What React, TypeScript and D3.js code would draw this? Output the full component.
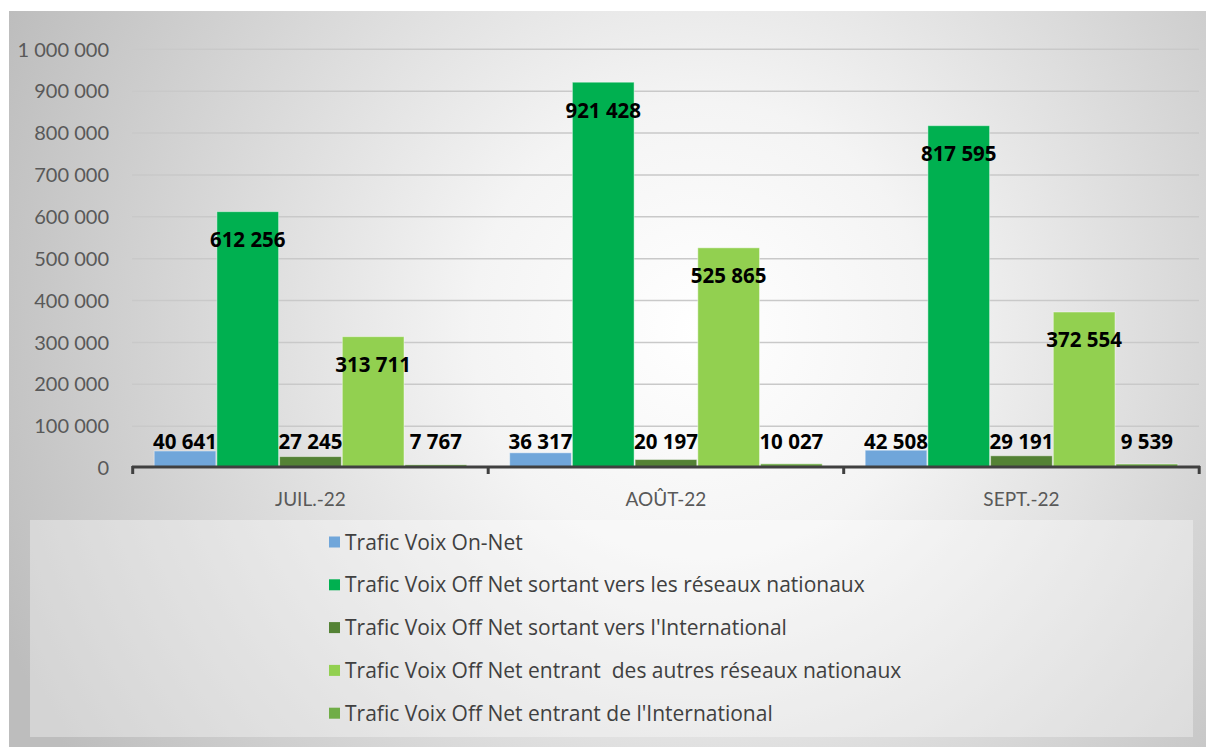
import React from 'react';
import * as d3 from 'd3';

// months on the x axis
const months = ['JUIL.-22', 'AOÛT-22', 'SEPT.-22'];

// one array per series, same order as months
const onNet = [40641, 36317, 42508];
const offNetSortantNat = [612256, 921428, 817595];
const offNetSortantInt = [27245, 20197, 29191];
const offNetEntrantNat = [313711, 525865, 372554];
const offNetEntrantInt = [7767, 10027, 9539];

const seriesNames = [
  'Trafic Voix On-Net',
  'Trafic Voix Off Net sortant vers les réseaux nationaux',
  "Trafic Voix Off Net sortant vers l'International",
  'Trafic Voix Off Net entrant  des autres réseaux nationaux',
  "Trafic Voix Off Net entrant de l'International",
];
const seriesColors = ['#70a6da', '#00b050', '#548235', '#92d050', '#70ad47'];

const yTicks = [0, 100000, 200000, 300000, 400000, 500000, 600000, 700000, 800000, 900000, 1000000];

const W = 1206;
const H = 747;

const fr = d3.formatLocale({ decimal: ',', thousands: '\u00a0', grouping: [3], currency: ['', ''] });
const fmt = fr.format(',d');

const App = () => {
  const series = [onNet, offNetSortantNat, offNetSortantInt, offNetEntrantNat, offNetEntrantInt];

  const x0 = d3.scaleBand<string>()
    .domain(months)
    .range([132.7, 1199.2])
    .paddingInner(0.118)
    .paddingOuter(0.059);

  const x1 = d3.scaleBand<number>()
    .domain(d3.range(series.length))
    .range([0, x0.bandwidth()]);

  const y = d3.scaleLinear().domain([0, 1000000]).range([468, 49.3]);

  const tickXs = [...months.map(m => x0(m)! - (x0.step() - x0.bandwidth()) / 2), 1199.2];

  return (
    <svg width={W} height={H} style={{ position: 'absolute', left: 0, top: 0 }}>
      <defs>
        <radialGradient id="bg" gradientUnits="userSpaceOnUse" cx={700} cy={330} r={760}>
          <stop offset="0" stopColor="#ffffff" />
          <stop offset="0.3" stopColor="#f4f4f4" />
          <stop offset="1" stopColor="#bdbdbd" />
        </radialGradient>
      </defs>
      <rect x={0} y={0} width={W} height={H} fill="#ffffff" />
      <rect x={9} y={11} width={W - 9} height={H - 11} fill="url(#bg)" />

      {/* gridlines */}
      {yTicks.filter(t => t > 0).map(t => (
        <line key={t} x1={132} x2={1199} y1={y(t)} y2={y(t)} stroke="#c9c9c9" strokeWidth={1.5} />
      ))}

      {/* y tick labels */}
      {yTicks.map(t => (
        <text key={t} x={109} y={y(t)} dy="0.36em" textAnchor="end"
          style={{ font: '20px Lato', fill: '#595959' }}>{fmt(t)}</text>
      ))}

      {/* bars */}
      {months.map((m, i) => (
        <g key={m} transform={`translate(${x0(m)},0)`}>
          {series.map((s, j) => (
            <rect key={j} x={x1(j)! + 0.5} y={y(s[i])} width={x1.bandwidth() - 1} height={y(0) - y(s[i])}
              fill={seriesColors[j]} stroke="#ffffff" strokeOpacity={0.45} strokeWidth={1} />
          ))}
        </g>
      ))}

      {/* axis line and ticks */}
      <line x1={132} x2={1200} y1={467} y2={467} stroke="#404040" strokeWidth={3} />
      {tickXs.map((tx, i) => (
        <line key={i} x1={tx} x2={tx} y1={466} y2={474} stroke="#404040" strokeWidth={3} />
      ))}

      {/* category labels */}
      {months.map(m => (
        <text key={m} x={x0(m)! + x0.bandwidth() / 2} y={499} dy="0.36em" textAnchor="middle"
          style={{ font: '19px Lato', fill: '#595959' }}>{m}</text>
      ))}

      {/* data labels */}
      {months.map((m, i) => (
        <g key={m} transform={`translate(${x0(m)},0)`}>
          {series.map((s, j) => (
            <text key={j} x={x1(j)! + x1.bandwidth() / 2} y={Math.min(y(s[i]) + 28, y(0) - 26)} dy="0.36em"
              textAnchor="middle" style={{ font: 'bold 20.5px "Open Sans"', fill: '#000000' }}>{fmt(s[i])}</text>
          ))}
        </g>
      ))}

      {/* legend */}
      <rect x={30} y={520} width={1163} height={217} fill="#ffffff" fillOpacity={0.35} />
      {seriesNames.map((name, i) => (
        <g key={name} transform={`translate(329,${542 + i * 42.8})`}>
          <rect x={0} y={-5.5} width={11} height={11} fill={seriesColors[i]} />
          <text x={16} y={0} dy="0.36em"
            style={{ font: '21px "Open Sans"', fill: '#404040', whiteSpace: 'pre', fontVariantLigatures: 'none' }}>{name}</text>
        </g>
      ))}
    </svg>
  );
};

export default App;
